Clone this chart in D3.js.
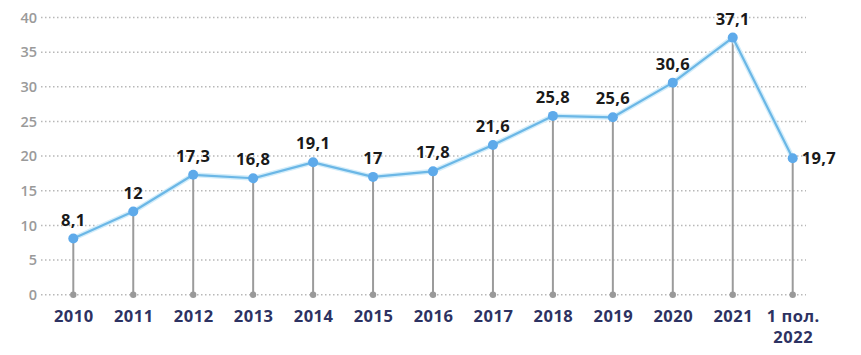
<!DOCTYPE html>
<html><head><meta charset="utf-8">
<script src="https://cdn.jsdelivr.net/npm/d3@7"></script>
<style>body{margin:0;background:#fff}svg{display:block}</style>
</head><body><svg id="c" width="861" height="355"></svg>
<script>
const categories = ["2010","2011","2012","2013","2014","2015","2016","2017","2018","2019","2020","2021","1 пол.\n2022"];
const values = [8.1,12,17.3,16.8,19.1,17,17.8,21.6,25.8,25.6,30.6,37.1,19.7];
const labels = ["8,1","12","17,3","16,8","19,1","17","17,8","21,6","25,8","25,6","30,6","37,1","19,7"];
const yTicks = [0,5,10,15,20,25,30,35,40];

const svg = d3.select("#c");
const x = d3.scalePoint().domain(categories).range([73.3, 792.7]);
const y = d3.scaleLinear().domain([0,40]).range([294.7, 17.5]);
const gridX0 = 41, gridX1 = 806;

// grid
svg.append("g").selectAll("line").data(yTicks).join("line")
  .attr("x1", gridX0).attr("x2", gridX1)
  .attr("y1", d=>y(d)).attr("y2", d=>y(d))
  .attr("stroke","#b8b8b8").attr("stroke-width",1.5).attr("stroke-dasharray","1.5,2.5");

// y axis labels
const yAxis = d3.axisLeft(y).tickValues(yTicks).tickSize(0).tickPadding(0);
const ya = svg.append("g").attr("transform",`translate(37,0)`).call(yAxis);
ya.select(".domain").remove();
ya.selectAll("text").attr("fill","#9a9a9a").style("font-family","Open Sans").style("font-size","14.5px").style("font-weight","600");

// stems
svg.append("g").selectAll("line").data(values).join("line")
  .attr("x1",(d,i)=>x(categories[i])).attr("x2",(d,i)=>x(categories[i]))
  .attr("y1",y(0)).attr("y2",d=>y(d))
  .attr("stroke","#9b9b9b").attr("stroke-width",2);
svg.append("g").selectAll("circle").data(values).join("circle")
  .attr("cx",(d,i)=>x(categories[i])).attr("cy",y(0)).attr("r",3.2).attr("fill","#999");

// line
const line = d3.line().x((d,i)=>x(categories[i])).y(d=>y(d));
svg.append("path").datum(values).attr("d",line).attr("fill","none")
  .attr("stroke","#d3edfa").attr("stroke-width",5).attr("stroke-linejoin","round");
svg.append("path").datum(values).attr("d",line).attr("fill","none")
  .attr("stroke","#6bb7e6").attr("stroke-width",2.2).attr("stroke-linejoin","round");
svg.append("g").selectAll("circle").data(values).join("circle")
  .attr("cx",(d,i)=>x(categories[i])).attr("cy",d=>y(d)).attr("r",5).attr("fill","#5eaaea");

// value labels
const last = values.length-1;
svg.append("g").selectAll("text").data(values).join("text")
  .attr("x",(d,i)=> i===last ? x(categories[i])+9 : x(categories[i]))
  .attr("y",(d,i)=> i===last ? y(d)+6 : y(d)-13)
  .attr("text-anchor",(d,i)=> i===last ? "start" : "middle")
  .attr("fill","#1a1a1a").style("font-family","Open Sans").style("font-size","16.5px").style("font-weight","700")
  .style("letter-spacing","0.3px")
  .text((d,i)=>labels[i]);

// x axis labels
const xAxis = d3.axisBottom(x).tickSize(0).tickPadding(0).tickFormat(()=> "");
const xa = svg.append("g").attr("transform",`translate(0,${y(0)})`).call(xAxis);
xa.select(".domain").remove();
xa.selectAll(".tick").each(function(d){
  d.split("\n").forEach((s,k)=> d3.select(this).append("text").attr("text-anchor","middle").attr("fill","#2d3262")
    .style("font-family","Open Sans").style("font-size","16.5px").style("font-weight","700")
    .style("letter-spacing","0.5px")
    .attr("x",0).attr("y",27+k*21).text(s));
});
</script></body></html>
